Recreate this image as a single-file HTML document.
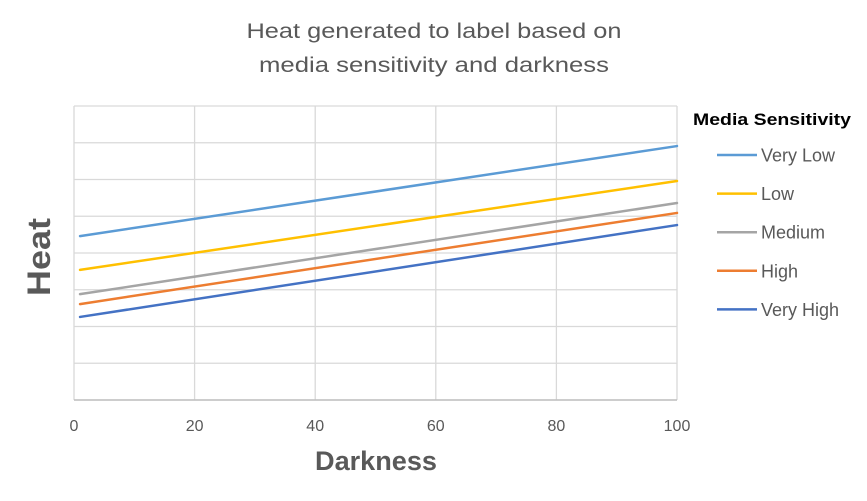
<!DOCTYPE html>
<html><head><meta charset="utf-8"><style>
html,body{margin:0;padding:0;background:#fff;}
svg{display:block;font-family:"Liberation Sans",sans-serif;}
</style></head><body>
<svg id="chart" width="867" height="501" viewBox="0 0 867 501">
<text x="434" y="38" text-anchor="middle" font-size="21" fill="#595959" textLength="375" lengthAdjust="spacingAndGlyphs">Heat generated to label based on</text>
<text x="434" y="72" text-anchor="middle" font-size="21" fill="#595959" textLength="350" lengthAdjust="spacingAndGlyphs">media sensitivity and darkness</text>
<g id="grid"></g>
<g id="xticks"></g>
<g id="series"></g>
<text transform="translate(50,257) rotate(-90)" text-anchor="middle" font-size="32" font-weight="bold" fill="#595959" textLength="78" lengthAdjust="spacingAndGlyphs">Heat</text>
<text x="376" y="470" text-anchor="middle" font-size="27" font-weight="bold" fill="#595959" textLength="122" lengthAdjust="spacingAndGlyphs">Darkness</text>
<text x="693" y="125" font-size="17" font-weight="bold" fill="#000" textLength="158" lengthAdjust="spacingAndGlyphs">Media Sensitivity</text>
<g id="legend"></g>
</svg>
<script>
const seriesNames = ["Very Low","Low","Medium","High","Very High"];
const seriesColors = ["#5B9BD5","#FFC000","#A5A5A5","#ED7D31","#4472C4"];
const xValues = [1, 100];
const veryLow = [4.46, 6.91];
const low = [3.54, 5.96];
const medium = [2.88, 5.36];
const high = [2.61, 5.09];
const veryHigh = [2.26, 4.76];
const xTickLabels = ["0","20","40","60","80","100"];
const xTickValues = [0,20,40,60,80,100];
const yGridValues = [0,1,2,3,4,5,6,7,8];

const L=74,R=677,T=106,B=400,YMAX=8;
const sx=v=>L+(v/100)*(R-L);
const sy=v=>B-(v/YMAX)*(B-T);
const NS="http://www.w3.org/2000/svg";
function mk(tag,attrs,parent){const e=document.createElementNS(NS,tag);for(const k in attrs)e.setAttribute(k,attrs[k]);parent.appendChild(e);return e;}
const grid=document.getElementById('grid');
yGridValues.forEach(v=>{
  const l=mk('line',{x1:L,x2:R,y1:sy(v),y2:sy(v),stroke:"#D9D9D9","stroke-width":1.3},grid);
  
  
});
xTickValues.forEach(v=>{
  const l=mk('line',{x1:sx(v),x2:sx(v),y1:T,y2:B,stroke:"#D9D9D9","stroke-width":1.3},grid);
  
  
});
const ax=mk('line',{x1:L,x2:R,y1:B,y2:B,stroke:"#BFBFBF","stroke-width":1.5},grid);


const xt=document.getElementById('xticks');
xTickValues.forEach((v,i)=>{
  const t=mk('text',{x:sx(v),y:431,"text-anchor":"middle","font-size":16,fill:"#595959"},xt);
  t.textContent=xTickLabels[i];
  
  
});
const data=[veryLow,low,medium,high,veryHigh];
const sg=document.getElementById('series');
data.forEach((d,i)=>{
  const pts=d.map((v,j)=>sx(xValues[j])+","+sy(v)).join(" ");
  const p=mk('polyline',{points:pts,fill:"none",stroke:seriesColors[i],"stroke-width":2.5,"stroke-linecap":"round"},sg);
  
  
});
const lg=document.getElementById('legend');
seriesNames.forEach((n,i)=>{
  const y=155+i*38.6;
  const l=mk('line',{x1:717,x2:757,y1:y,y2:y,stroke:seriesColors[i],"stroke-width":2.5},lg);
  
  
  const t=mk('text',{x:761,y:y+6.5,"font-size":18,fill:"#595959"},lg);
  t.textContent=n;
  
  
});
</script>
</body></html>
